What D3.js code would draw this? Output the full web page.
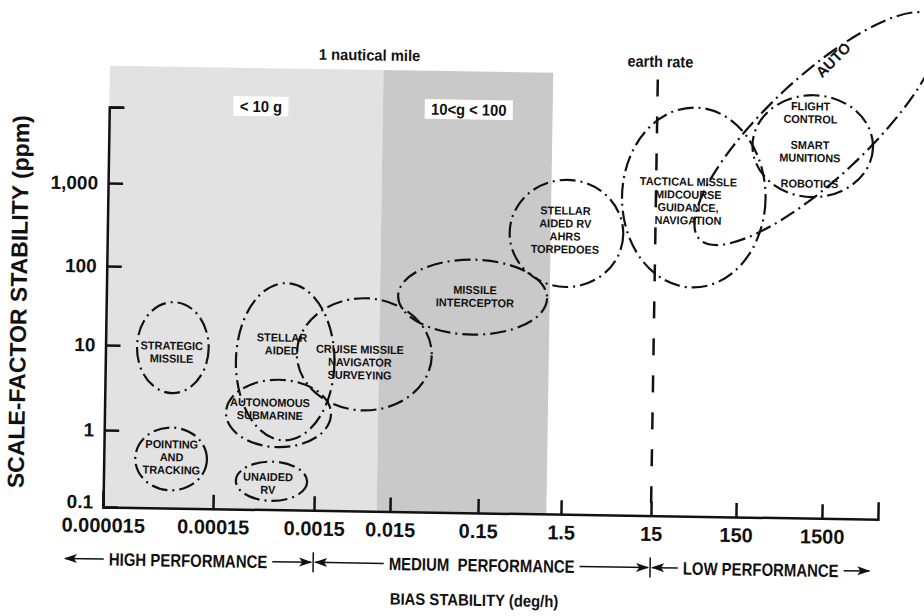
<!DOCTYPE html>
<html>
<head>
<meta charset="utf-8">
<script src="https://cdn.jsdelivr.net/npm/d3@7"></script>
<style>
  body { margin: 0; background: #fff; }
  svg { display: block; font-family: "Liberation Sans", Arial, Helvetica, sans-serif; }
  text { fill: #111; font-weight: bold; }
</style>
</head>
<body>
<div id="chart"></div>
<script>
// bias stability decades (deg/h)
var xTicks = [0.000015, 0.00015, 0.0015, 0.015, 0.15, 1.5, 15, 150, 1500];
var xTickLabels = ["0.000015", "0.00015", "0.0015", "0.015", "0.15", "1.5", "15", "150", "1500"];
var xEnd = 6000;
// scale-factor stability (ppm)
var yTicks = [0.1, 1, 10, 100, 1000, 10000];
var yTickLabels = ["0.1", "1", "10", "100", "1,000", ""];

// shaded g-level bands
var bandEdges = [0.000015, 0.01, 1];
var bandLabels = ["< 10 g", "10<g < 100"];
var bandTop = 35000;
var bandLabelY = 11000;

// application regions
var regionNames = [
  ["STRATEGIC", "MISSILE"],
  ["POINTING", "AND", "TRACKING"],
  ["STELLAR", "AIDED"],
  ["AUTONOMOUS", "SUBMARINE"],
  ["UNAIDED", "RV"],
  ["CRUISE MISSILE", "NAVIGATOR", "SURVEYING"],
  ["MISSILE", "INTERCEPTOR"],
  ["STELLAR", "AIDED RV", "AHRS", "TORPEDOES"],
  ["TACTICAL MISSLE", "MIDCOURSE", "GUIDANCE,", "NAVIGATION"],
  ["FLIGHT", "CONTROL", "", "SMART", "MUNITIONS", "", "ROBOTICS"]
];
var regionBias = [
  [2.9e-5, 1.3e-4], [2.9e-5, 1.3e-4], [2.4e-4, 2.6e-3], [1.95e-4, 2.4e-3], [2.5e-4, 1.27e-3],
  [9.6e-4, 0.042], [0.017, 0.93], [0.32, 6.6], [6.3, 290], [200, 4600]
];
var regionScale = [
  [2.8, 36], [0.17, 1.1], [0.8, 66], [0.65, 4.2], [0.13, 0.42],
  [1.9, 44], [16, 140], [67, 1370], [70, 13000], [920, 20000]
];
var regionLabelAt = [
  [6.0e-5, 8.5], [6.2e-5, 0.46], [6.8e-4, 11.2], [5.3e-4, 1.9], [5.2e-4, 0.22],
  [5.6e-3, 7.0], [0.127, 49], [1.49, 333], [36, 783], [933, 4430]
];

// AUTO region, a long tilted loop
var autoCenter = [1130, 7300];
var autoAxes = [1.8, 0.56];   // half lengths, decades
var autoAngle = -44;
var autoLabelAt = [1650, 59000];

var earthRate = 15;
var earthRateTop = 30000;
var noteNautical = [0.0065, 55000];
var noteEarth = [16, 52000];

var perfLabels = ["HIGH PERFORMANCE", "MEDIUM\u00A0\u00A0PERFORMANCE", "LOW PERFORMANCE"];
var perfEdges = [0.0000066, 0.0015, 15, 5200];

var W = 924, H = 616;
var ox = 103, oy = 507;
// the scanned axis is hand drawn: decades are not evenly spaced
var xStops = [0, 110, 211, 287, 375, 458, 548, 633, 719, 775];
var yStops = [0, 77, 162, 241, 324, 400];

var x = d3.scaleLog()
  .domain(xTicks.concat([xEnd]))
  .range(xStops.map(function(d) { return ox + d; }));
var y = d3.scaleLog()
  .domain(yTicks)
  .range(yStops.map(function(d) { return oy - d; }));
var dec = (x(1500) - x(0.000015)) / 8;

var svg = d3.select("#chart").append("svg")
  .attr("width", W)
  .attr("height", H);
svg.append("rect").attr("width", W).attr("height", H).attr("fill", "#fff");

// whole scan sits slightly rotated
var g = svg.append("g").attr("transform", "rotate(0.9," + ox + "," + oy + ")");

function label(parent, px, py, lines, size, k, lh) {
  var grp = parent.append("g").attr("transform", "translate(" + px + "," + py + ") scale(" + k + ",1)");
  var t = grp.append("text").attr("text-anchor", "middle").attr("font-size", size);
  lines.forEach(function(s, i) {
    t.append("tspan")
      .attr("x", 0)
      .attr("y", (i - (lines.length - 1) / 2) * lh)
      .attr("dy", "0.36em")
      .text(s);
  });
  return t;
}

// bands
var bandFill = ["#e2e2e2", "#c9c9c9"];
g.selectAll(".band")
  .data(bandLabels)
  .enter().append("rect")
  .attr("class", "band")
  .attr("x", function(d, i) { return x(bandEdges[i]); })
  .attr("width", function(d, i) { return x(bandEdges[i + 1]) - x(bandEdges[i]); })
  .attr("y", y(bandTop))
  .attr("height", y(0.1) - y(bandTop))
  .attr("fill", function(d, i) { return bandFill[i]; });

bandLabels.forEach(function(d, i) {
  var cx = x(Math.sqrt(bandEdges[i] * bandEdges[i + 1]));
  var t = label(g, cx, y(bandLabelY), [d], 16, 0.92, 0);
  var bb = t.node().getBBox();
  d3.select(t.node().parentNode).insert("rect", "text")
    .attr("x", bb.x - 7).attr("y", bb.y - 1)
    .attr("width", bb.width + 14).attr("height", bb.height + 2)
    .attr("fill", "#fff");
});

// earth rate
g.append("line")
  .attr("x1", x(earthRate)).attr("x2", x(earthRate))
  .attr("y1", y(earthRateTop)).attr("y2", y(0.1))
  .attr("stroke", "#111").attr("stroke-width", 2.5)
  .attr("stroke-dasharray", "17,20");

label(g, x(noteNautical[0]), y(noteNautical[1]), ["1 nautical mile"], 15.5, 0.95, 0);
label(g, x(noteEarth[0]), y(noteEarth[1]), ["earth rate"], 16, 0.9, 0);

// axes
var xAxis = d3.axisBottom(x)
  .tickValues(xTicks)
  .tickFormat(function(d, i) { return xTickLabels[i]; })
  .tickSizeInner(-14)
  .tickSizeOuter(-17)
  .tickPadding(11);
var yAxis = d3.axisLeft(y)
  .tickValues(yTicks)
  .tickFormat(function(d, i) { return yTickLabels[i]; })
  .tickSizeInner(-15)
  .tickSizeOuter(-15)
  .tickPadding(10);

var gx = g.append("g")
  .attr("transform", "translate(0," + oy + ")")
  .call(xAxis);
var gy = g.append("g")
  .attr("transform", "translate(" + ox + ",0)")
  .call(yAxis);
[gx, gy].forEach(function(a) {
  a.attr("font-size", null).attr("font-family", null);
  a.selectAll("path, line").attr("stroke", "#111").attr("stroke-width", 2.5);
  a.selectAll("text").attr("fill", "#111");
});
gx.selectAll("text").attr("font-size", 20);
gy.selectAll("text").attr("font-size", 19);
// bottom label sits a little above the corner
gy.selectAll("text").filter(function(d) { return d === yTicks[0]; }).attr("dy", "0.05em");

// regions
var dash = "16,5,2,5";
g.selectAll(".region")
  .data(regionNames)
  .enter().append("ellipse")
  .attr("class", "region")
  .attr("cx", function(d, i) { return (x(regionBias[i][0]) + x(regionBias[i][1])) / 2; })
  .attr("cy", function(d, i) { return (y(regionScale[i][0]) + y(regionScale[i][1])) / 2; })
  .attr("rx", function(d, i) { return (x(regionBias[i][1]) - x(regionBias[i][0])) / 2; })
  .attr("ry", function(d, i) { return (y(regionScale[i][0]) - y(regionScale[i][1])) / 2; })
  .attr("fill", "none")
  .attr("stroke", "#111")
  .attr("stroke-width", 2.2)
  .attr("stroke-dasharray", dash);

g.append("ellipse")
  .attr("rx", autoAxes[0] * dec)
  .attr("ry", autoAxes[1] * dec)
  .attr("transform", "translate(" + x(autoCenter[0]) + "," + y(autoCenter[1]) + ") rotate(" + autoAngle + ")")
  .attr("fill", "none")
  .attr("stroke", "#111")
  .attr("stroke-width", 2.2)
  .attr("stroke-dasharray", dash);

regionNames.forEach(function(d, i) {
  label(g, x(regionLabelAt[i][0]), y(regionLabelAt[i][1]), d, 11.5, 0.95, 12.9);
});

g.append("text")
  .attr("font-size", 15)
  .attr("text-anchor", "middle")
  .attr("dy", "0.36em")
  .attr("transform", "translate(" + x(autoLabelAt[0]) + "," + y(autoLabelAt[1]) + ") rotate(-46)")
  .text("AUTO");

// axis titles
g.append("text")
  .attr("font-size", 23)
  .attr("text-anchor", "middle")
  .attr("dy", "0.36em")
  .attr("transform", "translate(15," + (oy - 204) + ") rotate(-90)")
  .text("SCALE-FACTOR STABILITY (ppm)");
label(g, (x(0.000015) + x(xEnd)) / 2 - 15, oy + 87, ["BIAS STABILITY (deg/h)"], 16.5, 0.9, 0);

// performance classes
var perfY = oy + 52;
function head(px, dir) {
  g.append("path")
    .attr("d", "M" + px + "," + perfY + "l" + (-dir * 13) + ",-4.5l" + (dir * 3) + ",4.5l" + (-dir * 3) + ",4.5z")
    .attr("fill", "#111");
}
perfLabels.forEach(function(d, i) {
  var a = x(perfEdges[i]), b = x(perfEdges[i + 1]);
  var mid = (a + b) / 2, k = 0.83;
  var t = label(g, mid, perfY, [d], 18, k, 0);
  var w = t.node().getComputedTextLength() * k;
  g.append("line").attr("x1", a + 2).attr("x2", mid - w / 2 - 5)
    .attr("y1", perfY).attr("y2", perfY).attr("stroke", "#111").attr("stroke-width", 1.5);
  g.append("line").attr("x1", mid + w / 2 + 5).attr("x2", b - 2)
    .attr("y1", perfY).attr("y2", perfY).attr("stroke", "#111").attr("stroke-width", 1.5);
  head(a + 1, -1);
  head(b - 1, 1);
});
[perfEdges[1], perfEdges[2]].forEach(function(v) {
  g.append("line")
    .attr("x1", x(v)).attr("x2", x(v))
    .attr("y1", perfY - 10).attr("y2", perfY + 10)
    .attr("stroke", "#111").attr("stroke-width", 1.5);
});
</script>
</body>
</html>
